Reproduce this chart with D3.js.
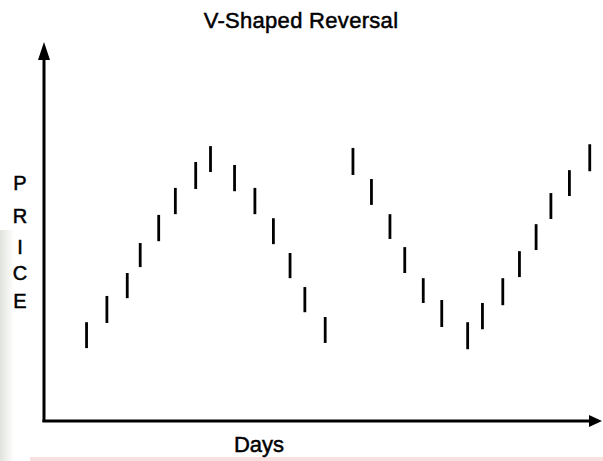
<!DOCTYPE html>
<html lang="en">
<head>
<meta charset="utf-8">
<script src="https://cdn.jsdelivr.net/npm/d3@7"></script>
<style>
  body { margin: 0; background: #fff; }
  svg { display: block; font-family: "Liberation Sans", Arial, sans-serif; }
  .lab { fill: #000; stroke: #000; stroke-width: 0.5px; }
</style>
</head>
<body>
<div id="chart"></div>
<script>
// day position of each price bar
var days = [2.3, 3.4, 4.5, 5.2, 6.2, 7.1, 8.2, 9.0, 10.3, 11.4, 12.4, 13.3, 14.1, 15.2,
            16.7, 17.7, 18.7, 19.5, 20.5, 21.5, 22.9, 23.7, 24.8, 25.7, 26.6, 27.4, 28.4, 29.5];
var highs = [26.7, 33.8, 40.0, 48.1, 55.7, 63.0, 70.0, 74.3, 69.2, 63.0, 54.8, 45.4, 36.2, 28.1,
             73.8, 65.4, 55.9, 47.0, 38.6, 32.7, 26.7, 31.9, 38.6, 45.9, 53.2, 61.6, 67.8, 74.8];
var lows  = [19.7, 26.5, 33.2, 41.6, 48.6, 55.9, 62.7, 67.3, 62.1, 55.9, 47.8, 38.6, 29.4, 21.1,
             66.5, 58.4, 49.2, 40.0, 31.9, 25.4, 19.4, 24.8, 31.3, 38.9, 46.2, 54.6, 60.8, 67.5];
var title = "V-Shaped Reversal";
var xLabel = "Days";
var yLabel = ["P", "R", "I", "C", "E"];

var width = 603, height = 461;

var bars = days.map(function (d, i) {
    return {day: d, high: highs[i], low: lows[i]};
});

var svg = d3.select("#chart")
    .append("svg")
    .attr("width", width)
    .attr("height", height);

// faint scan marks along the edges
var defs = svg.append("defs");
var g1 = defs.append("linearGradient").attr("id", "edgeL").attr("x1", 0).attr("x2", 1);
g1.append("stop").attr("offset", 0).attr("stop-color", "#d6dad0");
g1.append("stop").attr("offset", 1).attr("stop-color", "#fff");
var g2 = defs.append("linearGradient").attr("id", "edgeT").attr("x1", 0).attr("x2", 0).attr("y1", 0).attr("y2", 1);
g2.append("stop").attr("offset", 0).attr("stop-color", "#fff").attr("stop-opacity", 0);
g2.append("stop").attr("offset", 0.3).attr("stop-color", "#fff").attr("stop-opacity", 1);
svg.append("rect").attr("x", 0).attr("y", 230).attr("width", 14).attr("height", 231)
    .attr("fill", "url(#edgeL)").attr("opacity", 0.75);
svg.append("rect").attr("x", 30).attr("y", 457).attr("width", 573).attr("height", 4)
    .attr("fill", "#f4d3d3").attr("opacity", 0.7);

var x = d3.scaleLinear().domain([0, 30]).range([44, 599]);
var y = d3.scaleLinear().domain([0, 100]).range([421, 51]);

// axes with arrow heads
svg.append("line")
    .attr("x1", x(0)).attr("x2", x(0))
    .attr("y1", y(0) + 1).attr("y2", 52)
    .attr("stroke", "#000").attr("stroke-width", 3);
svg.append("path")
    .attr("d", "M" + x(0) + ",42 L" + (x(0) - 6) + ",60 L" + (x(0) + 6) + ",60 Z")
    .attr("fill", "#000");

svg.append("line")
    .attr("x1", x(0) - 1.5).attr("x2", 592)
    .attr("y1", y(0)).attr("y2", y(0))
    .attr("stroke", "#000").attr("stroke-width", 3);
svg.append("path")
    .attr("d", "M602," + y(0) + " L589," + (y(0) - 6) + " L589," + (y(0) + 6) + " Z")
    .attr("fill", "#000");

// price bars
svg.selectAll(".bar")
    .data(bars)
    .enter()
    .append("line")
    .attr("class", "bar")
    .attr("x1", function (d) { return x(d.day); })
    .attr("x2", function (d) { return x(d.day); })
    .attr("y1", function (d) { return y(d.high); })
    .attr("y2", function (d) { return y(d.low); })
    .attr("stroke", "#000")
    .attr("stroke-width", 2.8);

// labels
svg.append("text")
    .attr("class", "lab")
    .attr("x", 301)
    .attr("y", 28)
    .attr("text-anchor", "middle")
    .style("font-size", "22px")
    .style("letter-spacing", "0.3px")
    .text(title);

svg.append("text")
    .attr("class", "lab")
    .attr("x", 259)
    .attr("y", 452)
    .attr("text-anchor", "middle")
    .style("font-size", "22px")
    .text(xLabel);

var letterY = [190, 223, 254, 280, 308];
svg.selectAll(".ylab")
    .data(yLabel)
    .enter()
    .append("text")
    .attr("class", "ylab lab")
    .attr("x", 20)
    .attr("y", function (d, i) { return letterY[i]; })
    .attr("text-anchor", "middle")
    .style("font-size", "20px")
    .text(function (d) { return d; });
</script>
</body>
</html>
